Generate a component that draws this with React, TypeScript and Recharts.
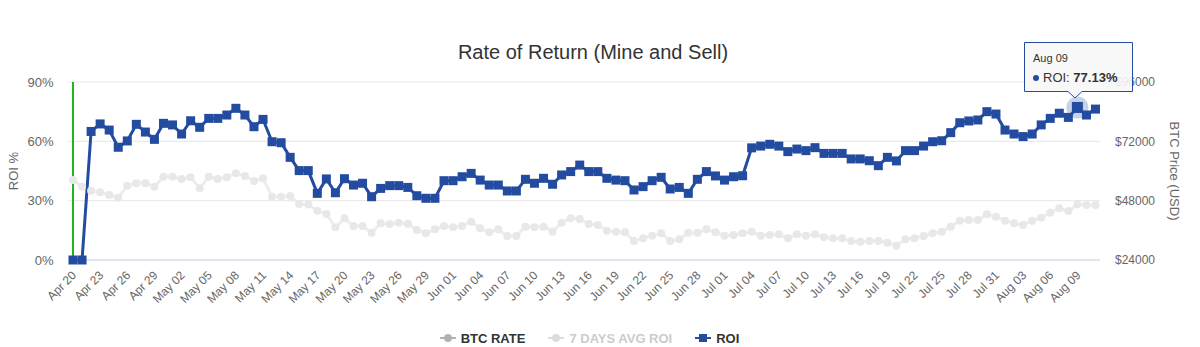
import React from "react";
import {
	LineChart,
	Line,
	XAxis,
	YAxis,
	CartesianGrid,
	Tooltip,
	Legend,
	ReferenceLine,
} from "recharts";

// Apr 20 .. Aug 11, one point per day
const months: [string, number, number][] = [
	["Apr", 20, 30],
	["May", 1, 31],
	["Jun", 1, 30],
	["Jul", 1, 31],
	["Aug", 1, 11],
];
const dates = months.flatMap(([m, from, to]) =>
	Array.from({ length: to - from + 1 }, (_, i) => `${m} ${String(from + i).padStart(2, "0")}`)
);

const roi = [
	0, 0, 65, 68.8, 65.7, 57, 60.2, 68.6, 64.7, 61,
	69.1, 68.3, 63.7, 70.4, 67.1, 71.6, 71.6, 73.3, 76.7, 73.3,
	67.4, 71.1, 59.8, 59.3, 51.9, 45.2, 45.2, 33.7, 41, 34,
	41.1, 37.9, 38.8, 32, 36.2, 37.6, 37.6, 36.7, 32.5, 31.2,
	31.2, 40.1, 40.1, 42.1, 43.8, 40.4, 37.9, 37.9, 34.9, 34.9,
	40.8, 38.8, 41.3, 38.3, 43, 44.7, 48, 44.7, 44.7, 41.3,
	40.4, 40.1, 35.4, 37.1, 40.1, 41.8, 35.9, 36.7, 33.7, 40.8,
	44.7, 42.5, 40.4, 42.1, 42.6, 56.7, 57.6, 58.5, 57.6, 54.8,
	56.1, 55.3, 56.8, 53.9, 53.9, 53.9, 51.1, 51.1, 50.2, 47.7,
	51.9, 50.1, 55.3, 55.3, 57.6, 59.8, 60.3, 64.4, 69.4, 70.3,
	70.8, 75, 73.8, 65.7, 63.7, 62.4, 63.7, 68.3, 71.6, 74.2,
	72.1, 77.13, 73.3, 76.3,
];

const btcRate = [
	56360, 53650, 52030, 51380, 50290, 49200, 54060, 55020, 55020, 53650,
	57700, 57700, 56760, 57450, 53000, 57700, 56760, 57450, 59070, 57980,
	55960, 57050, 49600, 49600, 49890, 46650, 46400, 43960, 42600, 37220,
	40860, 37750, 37750, 35040, 38840, 38560, 39100, 38700, 36130, 34790,
	36420, 37750, 37220, 37750, 39500, 36830, 35200, 36420, 33710, 33710,
	37490, 37220, 37490, 35470, 39100, 40860, 40590, 38560, 38160, 35850,
	35470, 35200, 31690, 32780, 33830, 34790, 31690, 32370, 35040, 35040,
	36420, 35200, 33830, 34110, 34790, 35470, 33830, 34110, 34380, 32780,
	34380, 33830, 34380, 33180, 32780, 32780, 31690, 31420, 31690, 31690,
	31000, 29790, 32370, 32780, 33710, 34790, 35470, 37490, 39900, 40180,
	40180, 42490, 41520, 39900, 38840, 38160, 39900, 41110, 43130, 44910,
	43820, 46530, 46250, 46250,
];

const roiTicks = [0, 30, 60, 90];
const priceTicks = [24000, 48000, 72000, 96000];

const data = dates.map((date, i) => ({ date, roi: roi[i], btc: btcRate[i] }));

const BLUE = "#234ca1";
const FONT = "'Liberation Sans', Arial, Helvetica, sans-serif";

function DateTick({ x, y, payload }: any) {
	return (
		<text
			x={x + 4}
			y={y + 8}
			transform={`rotate(-45, ${x + 4}, ${y + 8})`}
			textAnchor="end"
			fontSize={12}
			fill="#666"
			fontFamily={FONT}
		>
			{payload.value}
		</text>
	);
}

function SquareDot({ cx, cy, index }: any) {
	return <rect key={index} x={cx - 4.5} y={cy - 4.5} width={9} height={9} fill={BLUE} />;
}

function ActiveSquare({ cx, cy }: any) {
	return (
		<g>
			<circle cx={cx} cy={cy} r={11} fill={BLUE} fillOpacity={0.25} />
			<rect x={cx - 5.5} y={cy - 5.5} width={11} height={11} fill={BLUE} />
		</g>
	);
}

function TipBox({ active, payload, label }: any) {
	if (!active || !payload || !payload.length) return null;
	const p = payload.find((d: any) => d.dataKey === "roi");
	if (!p) return null;
	return (
		<svg width={112} height={60} style={{ overflow: "visible", display: "block" }}>
			<path
				d="M0.5 0.5 H108.5 V49.5 H58 L51 56 L44 49.5 H0.5 Z"
				fill="#f7f7f7"
				fillOpacity={0.9}
				stroke={BLUE}
				strokeWidth={1}
			/>
			<text x={9} y={20} fontSize={11} fill="#333" fontFamily={FONT}>
				{label}
			</text>
			<circle cx={12} cy={36} r={3} fill={BLUE} />
			<text x={19} y={40} fontSize={13} fill="#333" fontFamily={FONT}>
				ROI: <tspan fontWeight="bold">{p.value.toFixed(2)}%</tspan>
			</text>
		</svg>
	);
}

function LegendSymbol({ color, shape }: { color: string; shape: "circle" | "square" }) {
	return (
		<svg width={16} height={12} style={{ marginRight: 5 }}>
			<line x1={0} y1={6} x2={16} y2={6} stroke={color} strokeWidth={2} />
			{shape === "circle" ? (
				<circle cx={8} cy={6} r={4} fill={color} />
			) : (
				<rect x={4} y={2} width={8} height={8} fill={color} />
			)}
		</svg>
	);
}

function ChartLegend() {
	const items = [
		{ name: "BTC RATE", color: "#b3b3b3", text: "#333", shape: "circle" as const },
		{ name: "7 DAYS AVG ROI", color: "#dcdcdc", text: "#cccccc", shape: "circle" as const },
		{ name: "ROI", color: BLUE, text: "#333", shape: "square" as const },
	];
	return (
		<div
			style={{
				display: "flex",
				justifyContent: "center",
				alignItems: "center",
				height: 22,
				paddingRight: 21,
				fontFamily: FONT,
				fontSize: 13,
				fontWeight: "bold",
			}}
		>
			{items.map((it) => (
				<div key={it.name} style={{ display: "flex", alignItems: "center", margin: "0 11.5px", color: it.text }}>
					<LegendSymbol color={it.color} shape={it.shape} />
					{it.name}
				</div>
			))}
		</div>
	);
}

export default function App() {
	return (
		<div style={{ position: "absolute", top: 0, left: 0, width: 1200, height: 347, background: "#fff" }}>
			<div
				style={{
					position: "absolute",
					top: 41,
					left: 0,
					width: 1186,
					textAlign: "center",
					fontFamily: FONT,
					fontSize: 20,
					lineHeight: "22px",
					color: "#333",
				}}
			>
				Rate of Return (Mine and Sell)
			</div>
			<LineChart
				width={1200}
				height={347}
				data={data}
				margin={{ top: 82, right: 10, bottom: 0, left: 8.5 }}
			>
				<CartesianGrid yAxisId="left" vertical={false} stroke="#e6e6e6" />
				<XAxis
					dataKey="date"
					interval={2}
					tickLine={false}
					axisLine={{ stroke: "#ccd6eb" }}
					height={65}
					padding={{ left: 4.5, right: 4.5 }}
					tick={<DateTick />}
				/>
				<YAxis
					yAxisId="left"
					domain={[0, 90]}
					ticks={roiTicks}
					tickFormatter={(v) => `${v}%`}
					width={60}
					axisLine={false}
					tickLine={false}
					tickSize={0}
					tickMargin={15}
					tick={{ fontSize: 13, fill: "#666", fontFamily: FONT }}
					label={{
						content: () => (
							<text
								x={17.5}
								y={171}
								transform="rotate(-90, 17.5, 171)"
								textAnchor="middle"
								fontSize={13}
								fill="#666"
								fontFamily={FONT}
							>
								ROI %
							</text>
						),
					}}
				/>
				<YAxis
					yAxisId="right"
					orientation="right"
					domain={[24000, 96000]}
					ticks={priceTicks}
					tickFormatter={(v) => `$${v}`}
					width={90}
					axisLine={false}
					tickLine={false}
					tickSize={0}
					tickMargin={15}
					tick={{ fontSize: 12, fill: "#666", fontFamily: FONT }}
					label={{
						content: () => (
							<text
								x={1170}
								y={171}
								transform="rotate(90, 1170, 171)"
								textAnchor="middle"
								fontSize={13}
								fill="#666"
								fontFamily={FONT}
							>
								BTC Price (USD)
							</text>
						),
					}}
				/>
				<ReferenceLine yAxisId="left" x="Apr 20" stroke="#1fb51f" strokeWidth={2} />
				<Line
					yAxisId="right"
					dataKey="btc"
					name="BTC RATE"
					stroke="#ededed"
					strokeWidth={3}
					dot={{ r: 4, fill: "#e8e8e8", stroke: "none" }}
					activeDot={false}
					tooltipType="none"
					isAnimationActive={false}
				/>
				<Line
					yAxisId="left"
					dataKey="roi"
					name="ROI"
					stroke={BLUE}
					strokeWidth={3}
					dot={<SquareDot />}
					activeDot={<ActiveSquare />}
					isAnimationActive={false}
				/>
				<Legend
					verticalAlign="bottom"
					content={<ChartLegend />}
					wrapperStyle={{ left: 0, width: 1200, top: 327, bottom: "auto", height: 22 }}
				/>
				<Tooltip
					defaultIndex={111}
					cursor={false}
					position={{ x: 1024, y: 42 }}
					content={<TipBox />}
					isAnimationActive={false}
					wrapperStyle={{ outline: "none" }}
				/>
			</LineChart>
		</div>
	);
}
